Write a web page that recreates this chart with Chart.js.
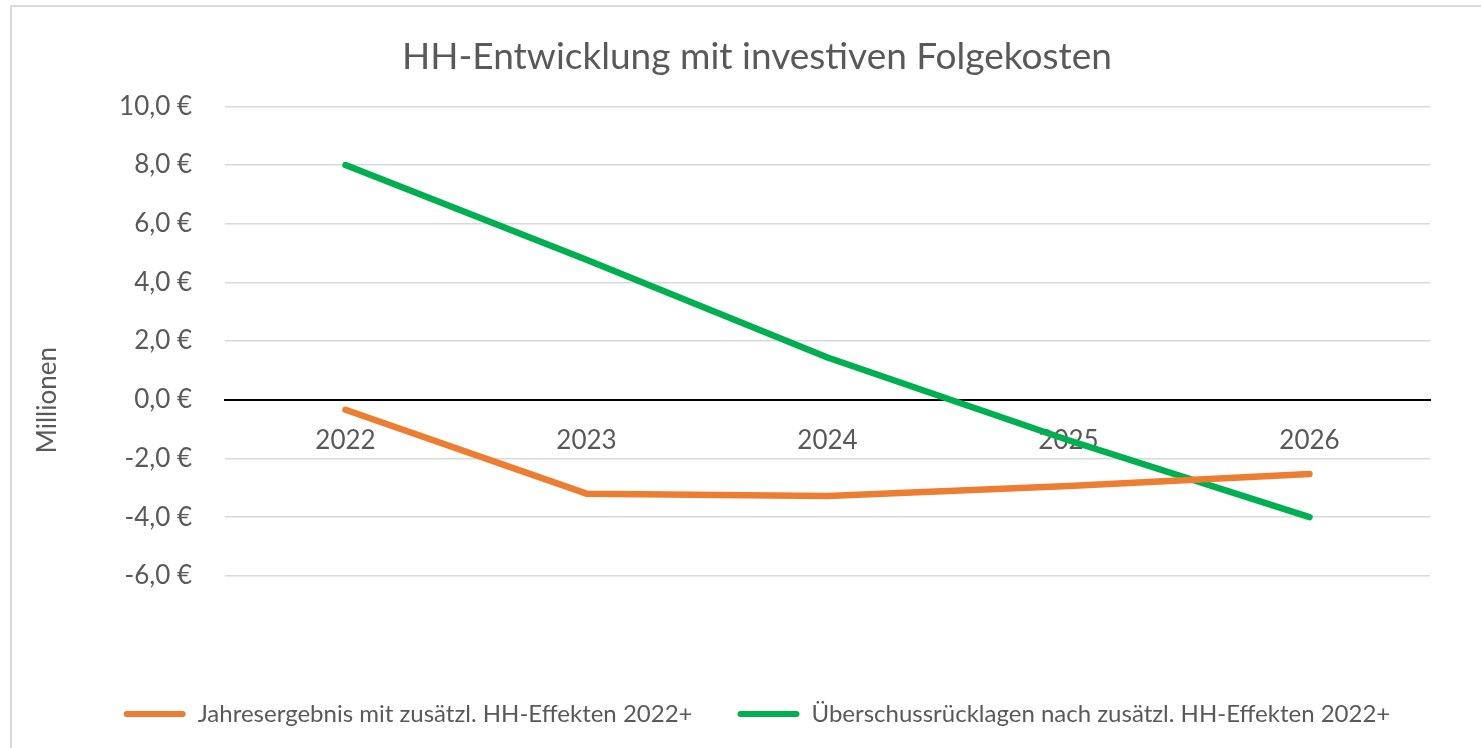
<!DOCTYPE html>
<html>
<head>
<meta charset="utf-8">
<script src="https://cdn.jsdelivr.net/npm/chart.js@4/dist/chart.umd.min.js"></script>
<style>
  html, body { margin: 0; padding: 0; background: #fff; overflow: hidden; }
  #rahmen {
    position: absolute; left: 10px; top: 5px;
    width: 1490px; height: 762px;
    border: 2px solid #d9d9d9;
  }
</style>
</head>
<body>
<div id="rahmen"><canvas id="hhChart"></canvas></div>
<script>
var jahre = ['2022', '2023', '2024', '2025', '2026'];
var jahresergebnis = [-0.34, -3.2, -3.28, -2.94, -2.53];
var ueberschuss = [8.0, 4.77, 1.44, -1.38, -4.0];
var serienNamen = [
  'Jahresergebnis mit zusätzl. HH-Effekten 2022+',
  'Überschussrücklagen nach zusätzl. HH-Effekten 2022+'
];
var farben = ['#ED7D31', '#00B050'];
var achsenTitel = 'Millionen';

var schrift = "Lato, 'Open Sans', sans-serif";
var grau = '#595959';

function euro(v) {
  return v.toFixed(1).replace('.', ',') + ' €';
}

// Achsentitel wie in Excel: mittig zwischen Diagrammoberkante und Legende
var achsenTitelPlugin = {
  id: 'achsenTitel',
  afterDraw: function (chart) {
    var c = chart.ctx;
    var y = chart.scales.y;
    var unten = chart.legend.legendHitBoxes.length ? chart.legend.legendHitBoxes[0].top : chart.chartArea.bottom;
    var mitte = (chart.chartArea.top + unten) / 2 - 4;
    c.save();
    c.translate(y.left + 16, mitte);
    c.rotate(-Math.PI / 2);
    c.fillStyle = grau;
    c.font = '26px ' + schrift;
    c.textAlign = 'center';
    c.textBaseline = 'middle';
    c.fillText(achsenTitel, 0, 0);
    c.restore();
  }
};

var ctx = document.getElementById('hhChart');

new Chart(ctx, {
  type: 'line',
  data: {
    labels: jahre,
    datasets: [{
      label: serienNamen[0],
      data: jahresergebnis,
      borderColor: farben[0],
      backgroundColor: farben[0],
      borderWidth: 6.5,
      pointRadius: 0,
      borderCapStyle: 'round',
      borderJoinStyle: 'round',
      tension: 0
    }, {
      label: serienNamen[1],
      data: ueberschuss,
      borderColor: farben[1],
      backgroundColor: farben[1],
      borderWidth: 6.5,
      pointRadius: 0,
      borderCapStyle: 'round',
      borderJoinStyle: 'round',
      tension: 0
    }]
  },
  options: {
    responsive: true,
    maintainAspectRatio: false,
    animation: false,
    layout: {
      padding: { left: 20, right: 20, top: 0, bottom: 33 }
    },
    scales: {
      x: {
        position: { y: 0 },
        offset: true,
        grid: { display: false, drawTicks: false },
        border: { display: true, color: '#000', width: 2 },
        ticks: {
          color: grau,
          padding: 25,
          font: { family: schrift, size: 26 }
        }
      },
      y: {
        min: -6,
        max: 10,
        ticks: {
          stepSize: 2,
          color: grau,
          padding: 33,
          font: { family: schrift, size: 26 },
          callback: function (v) { return euro(v); }
        },
        grid: {
          color: function (c) { return c.tick.value === 0 ? 'rgba(0,0,0,0)' : '#d9d9d9'; },
          lineWidth: 1.5,
          drawTicks: false
        },
        border: { display: false },
        afterFit: function (s) { s.width = 193; }
      },
      rechts: {
        type: 'linear',
        position: 'right',
        min: -6,
        max: 10,
        grid: { display: false, drawTicks: false },
        ticks: { display: false },
        border: { display: false },
        afterFit: function (s) { s.width = 52; }
      }
    },
    plugins: {
      title: {
        display: true,
        text: 'HH-Entwicklung mit investiven Folgekosten',
        color: grau,
        padding: { top: 28, bottom: 27 },
        font: { family: schrift, size: 37, weight: 'normal' }
      },
      legend: {
        display: true,
        position: 'bottom',
        title: {
          display: true,
          text: '',
          padding: { top: 80, bottom: 0 },
          font: { size: 1 }
        },
        labels: {
          boxWidth: 62,
          boxHeight: 6,
          padding: 45,
          color: grau,
          useBorderRadius: true,
          borderRadius: 3,
          font: { family: schrift, size: 24 },
          generateLabels: function (chart) {
            var items = Chart.defaults.plugins.legend.labels.generateLabels(chart);
            items.forEach(function (it, i) {
              it.fillStyle = farben[i];
              it.strokeStyle = farben[i];
              it.lineWidth = 0;
            });
            return items;
          }
        }
      },
      tooltip: { enabled: false }
    }
  },
  plugins: [achsenTitelPlugin]
});
</script>
</body>
</html>
